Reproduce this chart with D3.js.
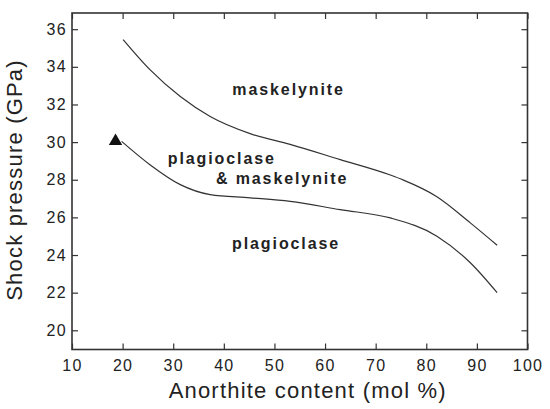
<!DOCTYPE html>
<html>
<head>
<meta charset="utf-8">
<script src="https://cdn.jsdelivr.net/npm/d3@7"></script>
<style>
  body { margin: 0; background: #fff; }
  svg { display: block; }
  text { font-family: "Liberation Sans", Arial, Helvetica, sans-serif; fill: #222; }
</style>
</head>
<body>
<svg id="chart" width="550" height="409"></svg>
<script>

// axis ticks
var xTicks = [10, 20, 30, 40, 50, 60, 70, 80, 90, 100];
var yTicks = [20, 22, 24, 26, 28, 30, 32, 34, 36];

// upper boundary: maskelynite above
var upperAn = [20.1, 25.4, 31.4, 37.3, 45.2, 53.1, 63.0, 72.9, 75.5, 82.1, 88.7, 94.0];
var upperP  = [35.45, 33.85, 32.42, 31.36, 30.45, 29.88, 29.07, 28.25, 27.98, 27.1, 25.71, 24.52];

// lower boundary: plagioclase below
var lowerAn = [19.8, 25.4, 31.4, 37.3, 45.2, 53.1, 63.0, 72.9, 82.1, 88.7, 94.0];
var lowerP  = [30.04, 28.8, 27.74, 27.21, 27.04, 26.85, 26.41, 25.97, 25.0, 23.59, 22.0];

// triangle marker
var markerAn = [18.6];
var markerP = [30.05];

// field labels
var labelText = ["maskelynite", "plagioclase", "& maskelynite", "plagioclase"];
var labelAn   = [52.8, 39.6, 51.5, 52.3];
var labelP    = [32.48, 28.86, 27.80, 24.32];

var margin = {top: 13, right: 22.5, bottom: 59.5, left: 72};
var width = 550 - margin.left - margin.right,
    height = 409 - margin.top - margin.bottom;

var svg = d3.select("#chart");
var g = svg.append("g")
    .attr("transform", "translate(" + margin.left + "," + margin.top + ")");

var x = d3.scaleLinear().domain([10, 100]).range([0, width]);
var y = d3.scaleLinear().domain([18.98, 36.86]).range([height, 0]);

var tickStyle = function(sel){
	sel.select(".domain").remove();
	sel.selectAll(".tick line").attr("stroke", "#333").attr("stroke-width", 1.2);
	sel.selectAll(".tick text")
		.style("font-size", "16px")
		.style("letter-spacing", "1.3px")
		.attr("fill", "#222");
};

g.append("g")
	.attr("transform", "translate(0," + height + ")")
	.call(d3.axisBottom(x).tickValues(xTicks).tickSize(-6).tickPadding(10))
	.call(tickStyle);

g.append("g")
	.call(d3.axisTop(x).tickValues(xTicks).tickSize(-6).tickFormat(""))
	.call(tickStyle);

g.append("g")
	.call(d3.axisLeft(y).tickValues(yTicks).tickSize(-6).tickPadding(5))
	.call(tickStyle);

g.append("g")
	.attr("transform", "translate(" + width + ",0)")
	.call(d3.axisRight(y).tickValues(yTicks).tickSize(-6).tickFormat(""))
	.call(tickStyle);

// frame
g.append("rect")
	.attr("x", 0).attr("y", 0)
	.attr("width", width).attr("height", height)
	.attr("fill", "none")
	.attr("stroke", "#333")
	.attr("stroke-width", 1.6);

var line = d3.line()
	.x(function(d){ return x(d[0]); })
	.y(function(d){ return y(d[1]); })
	.curve(d3.curveMonotoneX);

var curves = [d3.zip(upperAn, upperP), d3.zip(lowerAn, lowerP)];

g.selectAll("path.boundary").data(curves)
	.enter().append("path")
	.attr("class", "boundary")
	.attr("d", line)
	.attr("fill", "none")
	.attr("stroke", "#333")
	.attr("stroke-width", 1.2);

g.selectAll("path.marker").data(d3.zip(markerAn, markerP))
	.enter().append("path")
	.attr("class", "marker")
	.attr("d", d3.symbol(d3.symbolTriangle, 78))
	.attr("transform", function(d){ return "translate(" + x(d[0]) + "," + y(d[1]) + ")"; })
	.attr("fill", "#111");

g.selectAll("text.field").data(labelText)
	.enter().append("text")
	.attr("class", "field")
	.attr("x", function(d,i){ return x(labelAn[i]); })
	.attr("y", function(d,i){ return y(labelP[i]); })
	.attr("text-anchor", "middle")
	.style("font-size", "16px")
	.style("font-weight", "bold")
	.style("letter-spacing", "1.9px")
	.text(function(d){ return d; });

// axis titles
svg.append("text")
	.attr("x", margin.left + width / 2 + 8)
	.attr("y", 398)
	.attr("text-anchor", "middle")
	.style("font-size", "22px")
	.style("letter-spacing", "1.2px")
	.text("Anorthite content (mol %)");

svg.append("text")
	.attr("transform", "translate(22," + 180 + ") rotate(-90)")
	.attr("text-anchor", "middle")
	.style("font-size", "22px")
	.style("letter-spacing", "1.2px")
	.text("Shock pressure (GPa)");

</script>
</body>
</html>
